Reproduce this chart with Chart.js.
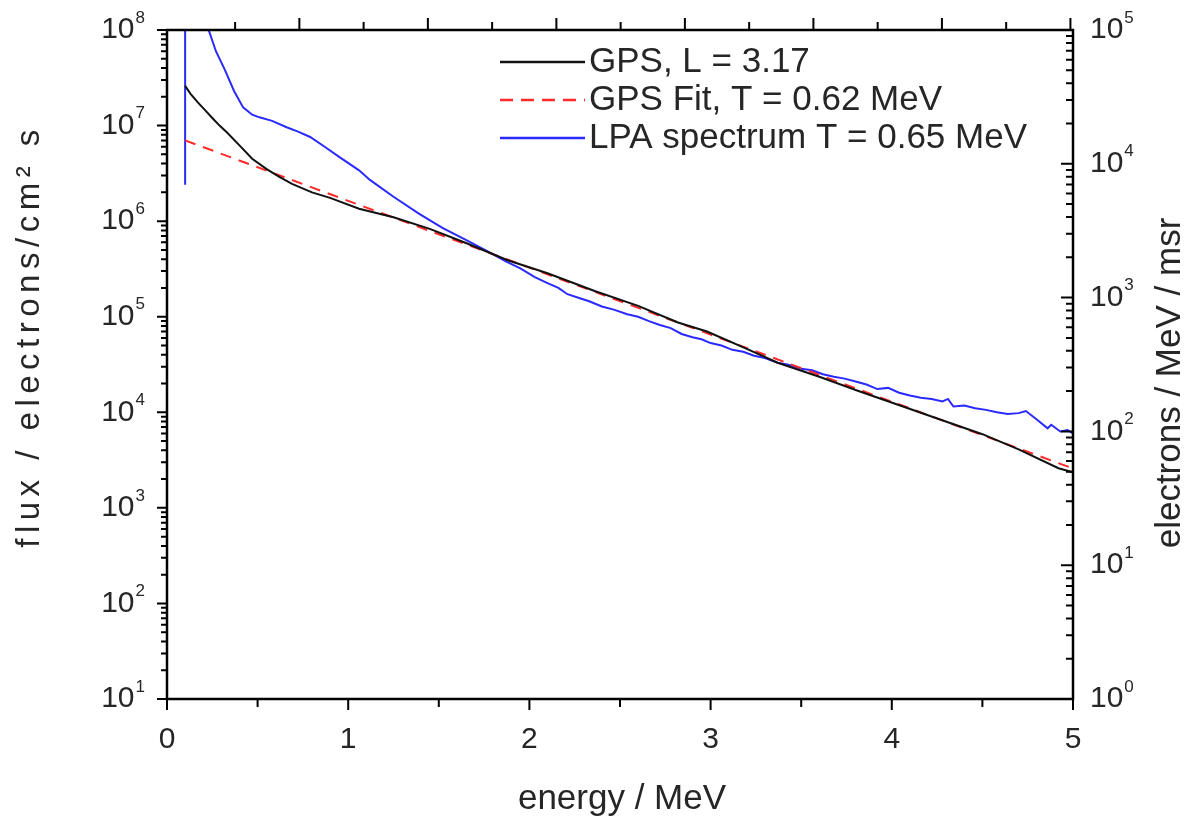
<!DOCTYPE html>
<html>
<head>
<meta charset="utf-8">
<script src="https://cdn.jsdelivr.net/npm/chart.js@4/dist/chart.umd.min.js"></script>
<style>
  html, body { margin: 0; padding: 0; background: #fff; }
  #wrap { width: 1191px; height: 816px; }
</style>
</head>
<body>
<div id="wrap"><canvas id="chart" width="1191" height="816"></canvas></div>
<script>
// GPS measured spectrum, L = 3.17 (energy in MeV, flux)
const gpsEnergy = [0.1, 0.13, 0.17, 0.21, 0.25, 0.29, 0.33, 0.4, 0.47, 0.55, 0.62, 0.69, 0.8, 0.9, 1.06, 1.25, 1.45, 1.65, 1.88,
  2.1, 2.36, 2.6, 2.82, 2.98, 3.2, 3.37, 3.6, 3.82, 4.05, 4.29, 4.5, 4.7, 4.92, 5.0]
const gpsFlux = [2.6e7, 2.15e7, 1.75e7, 1.45e7, 1.2e7, 1.0e7, 8.5e6, 6.2e6, 4.5e6, 3.5e6, 2.9e6, 2.45e6, 2.0e6, 1.75e6, 1.35e6, 1.1e6, 8.3e5, 5.9e5, 3.9e5,
  2.85e5, 1.86e5, 1.3e5, 8.7e4, 7.0e4, 4.6e4, 3.3e4, 2.35e4, 1.66e4, 1.17e4, 8.1e3, 5.9e3, 4.1e3, 2.6e3, 2.35e3]

// GPS exponential fit, T = 0.62 MeV
const fitEnergy = [0.1, 1, 2, 3, 4, 5]
const fitFlux = [7.0e6, 1.63e6, 3.26e5, 6.5e4, 1.29e4, 2.58e3]

// LPA spectrum, T = 0.65 MeV (plotted against the left axis)
const lpaEnergy = [0.1, 0.1, 0.2, 0.23, 0.27, 0.32, 0.37, 0.42, 0.47, 0.51, 0.58, 0.66, 0.72, 0.79, 0.87, 0.95,
  1.06, 1.12, 1.25, 1.39, 1.52, 1.66, 1.78, 1.87, 1.95, 2.03, 2.1, 2.16, 2.21, 2.27, 2.33, 2.4, 2.47, 2.54,
  2.6, 2.66, 2.72, 2.78, 2.84, 2.9, 2.95, 3.0, 3.06, 3.12, 3.18, 3.24, 3.3, 3.37, 3.43, 3.5, 3.56, 3.62,
  3.68, 3.74, 3.8, 3.86, 3.92, 3.98, 4.04, 4.1, 4.16, 4.22, 4.28, 4.31, 4.34, 4.4, 4.46, 4.52, 4.58, 4.64,
  4.7, 4.74, 4.8, 4.86, 4.88, 4.93, 4.97, 5.0]
const lpaFlux = [2.4e6, 3e8, 3e8, 1.0e8, 6.0e7, 3.8e7, 2.3e7, 1.55e7, 1.3e7, 1.22e7, 1.12e7, 9.6e6, 8.7e6, 7.6e6, 6.0e6, 4.7e6,
  3.4e6, 2.7e6, 1.8e6, 1.2e6, 8.5e5, 6.2e5, 4.7e5, 3.8e5, 3.2e5, 2.6e5, 2.25e5, 2.0e5, 1.72e5, 1.58e5, 1.45e5, 1.28e5, 1.18e5, 1.06e5,
  1.0e5, 9.0e4, 8.2e4, 7.6e4, 6.6e4, 6.1e4, 5.8e4, 5.3e4, 5.0e4, 4.5e4, 4.3e4, 3.9e4, 3.7e4, 3.3e4, 3.15e4, 2.85e4, 2.75e4, 2.5e4,
  2.35e4, 2.25e4, 2.1e4, 1.95e4, 1.75e4, 1.8e4, 1.6e4, 1.5e4, 1.42e4, 1.38e4, 1.3e4, 1.38e4, 1.15e4, 1.18e4, 1.1e4, 1.06e4, 1.0e4, 9.6e3,
  9.8e3, 1.03e4, 8.4e3, 6.8e3, 7.4e3, 6.3e3, 6.5e3, 6.0e3]

// axis ticks
const xTickValues = [0, 1, 2, 3, 4, 5]
const leftExponents = [1, 2, 3, 4, 5, 6, 7, 8]
const rightExponents = [0, 1, 2, 3, 4, 5]

const seriesLabels = ['GPS, L = 3.17', 'GPS Fit, T = 0.62 MeV', 'LPA spectrum T = 0.65 MeV']

const FONT = '"Liberation Sans", Arial, sans-serif'
const TEXT = '#262626'

function points(xs, ys) {
  return xs.map((x, i) => ({ x: x, y: ys[i] }))
}

// "10" with a raised exponent
function drawPower(ctx, exp, x, y, align) {
  ctx.font = '30px ' + FONT
  let baseW = ctx.measureText('10').width
  ctx.font = '17px ' + FONT
  let supW = ctx.measureText(String(exp)).width
  let total = baseW + supW + 1
  let left = align === 'right' ? x - total : x
  ctx.textAlign = 'left'
  ctx.textBaseline = 'middle'
  ctx.font = '30px ' + FONT
  ctx.fillText('10', left, y)
  ctx.font = '17px ' + FONT
  ctx.fillText(String(exp), left + baseW + 1, y - 12)
}

const framePlugin = {
  id: 'frame',
  afterDraw(chart) {
    const { ctx, chartArea: a } = chart
    const { x, x2, y, y2 } = chart.scales
    ctx.save()
    ctx.strokeStyle = '#000'
    ctx.fillStyle = TEXT

    // frame
    ctx.lineWidth = 2.5
    ctx.strokeRect(a.left, a.top, a.right - a.left, a.bottom - a.top)

    ctx.lineWidth = 2
    ctx.beginPath()
    // bottom ticks (outward)
    for (let v = 0; v <= 5.001; v += 0.5) {
      let px = x.getPixelForValue(v)
      let len = Math.abs(v - Math.round(v)) < 1e-6 ? 11 : 8
      ctx.moveTo(px, a.bottom)
      ctx.lineTo(px, a.bottom + len)
    }
    // top ticks (outward), unlabelled axis
    for (let v = 0.5; v <= x2.max; v += 0.5) {
      let px = x2.getPixelForValue(v)
      let len = Math.abs(v - Math.round(v)) < 1e-6 ? 12 : 8
      ctx.moveTo(px, a.top)
      ctx.lineTo(px, a.top - len)
    }
    // left ticks (outward)
    for (let e = 1; e <= 8; e++) {
      for (let m = 1; m <= 9; m++) {
        let v = m * Math.pow(10, e)
        if (v > 1e8 * 1.0001) continue
        let py = y.getPixelForValue(v)
        let len = m === 1 ? 10 : 6
        ctx.moveTo(a.left, py)
        ctx.lineTo(a.left - len, py)
      }
    }
    // right ticks (inward)
    for (let e = 0; e <= 5; e++) {
      for (let m = 1; m <= 9; m++) {
        let v = m * Math.pow(10, e)
        if (v > 1e5 * 1.0001) continue
        let py = y2.getPixelForValue(v)
        let len = m === 1 ? 12 : 7
        ctx.moveTo(a.right, py)
        ctx.lineTo(a.right - len, py)
      }
    }
    ctx.stroke()

    // tick labels
    ctx.font = '30px ' + FONT
    ctx.textAlign = 'center'
    ctx.textBaseline = 'middle'
    xTickValues.forEach(v => {
      ctx.fillText(String(v), x.getPixelForValue(v), a.bottom + 41)
    })
    leftExponents.forEach(e => {
      drawPower(ctx, e, a.left - 22, y.getPixelForValue(Math.pow(10, e)), 'right')
    })
    rightExponents.forEach(e => {
      drawPower(ctx, e, a.right + 17, y2.getPixelForValue(Math.pow(10, e)), 'left')
    })

    // axis titles
    ctx.font = '35px ' + FONT
    ctx.textAlign = 'center'
    ctx.textBaseline = 'middle'
    ctx.fillText('energy / MeV', (a.left + a.right) / 2 + 2, 799)

    ctx.save()
    ctx.translate(30, 336)
    ctx.rotate(-Math.PI / 2)
    ctx.font = '33px ' + FONT
    ctx.letterSpacing = '5.5px'
    ctx.fillText('flux / electrons/cm\u00B2 s', 0, 0)
    ctx.restore()

    ctx.save()
    ctx.translate(1170, 383)
    ctx.rotate(-Math.PI / 2)
    ctx.fillText('electrons / MeV / msr', 0, 0)
    ctx.restore()

    // legend
    const rows = [62, 100, 138]
    chart.data.datasets.forEach((ds, i) => {
      ctx.save()
      ctx.strokeStyle = ds.borderColor
      ctx.lineWidth = 2.5
      ctx.setLineDash(ds.borderDash ? [13, 8] : [])
      ctx.beginPath()
      ctx.moveTo(500, rows[i])
      ctx.lineTo(585, rows[i])
      ctx.stroke()
      ctx.restore()
      ctx.font = '35px ' + FONT
      ctx.textAlign = 'left'
      ctx.textBaseline = 'middle'
      ctx.fillText(ds.label, 589, rows[i])
    })
    ctx.restore()
  }
}

const chart = new Chart(document.getElementById('chart').getContext('2d'), {
  type: 'scatter',
  data: {
    datasets: [
      {
        label: seriesLabels[0],
        data: points(gpsEnergy, gpsFlux),
        showLine: true,
        borderColor: '#111',
        borderWidth: 2,
        pointRadius: 0,
        xAxisID: 'x',
        yAxisID: 'y'
      },
      {
        label: seriesLabels[1],
        data: points(fitEnergy, fitFlux),
        showLine: true,
        borderColor: '#ff2a2a',
        borderWidth: 2,
        borderDash: [11, 8],
        pointRadius: 0,
        xAxisID: 'x',
        yAxisID: 'y'
      },
      {
        label: seriesLabels[2],
        data: points(lpaEnergy, lpaFlux),
        showLine: true,
        borderColor: '#2a2aff',
        borderWidth: 2,
        pointRadius: 0,
        xAxisID: 'x',
        yAxisID: 'y'
      }
    ]
  },
  options: {
    responsive: false,
    animation: false,
    devicePixelRatio: 1,
    layout: { padding: 0 },
    plugins: {
      legend: { display: false },
      tooltip: { enabled: false }
    },
    scales: {
      x: {
        type: 'linear', position: 'bottom', min: 0, max: 5,
        grid: { display: false, drawTicks: false },
        border: { display: false },
        ticks: { display: false },
        afterFit: s => { s.height = 117 }
      },
      x2: {
        type: 'linear', position: 'top', min: -0.03, max: 7.02,
        grid: { display: false, drawTicks: false },
        border: { display: false },
        ticks: { display: false },
        afterFit: s => { s.height = 30 }
      },
      y: {
        type: 'logarithmic', position: 'left', min: 10, max: 1e8,
        grid: { display: false, drawTicks: false },
        border: { display: false },
        ticks: { display: false },
        afterFit: s => { s.width = 167 }
      },
      y2: {
        type: 'logarithmic', position: 'right', min: 1, max: 1e5,
        grid: { display: false, drawTicks: false },
        border: { display: false },
        ticks: { display: false },
        afterFit: s => { s.width = 118 }
      }
    }
  },
  plugins: [framePlugin]
})
</script>
</body>
</html>
